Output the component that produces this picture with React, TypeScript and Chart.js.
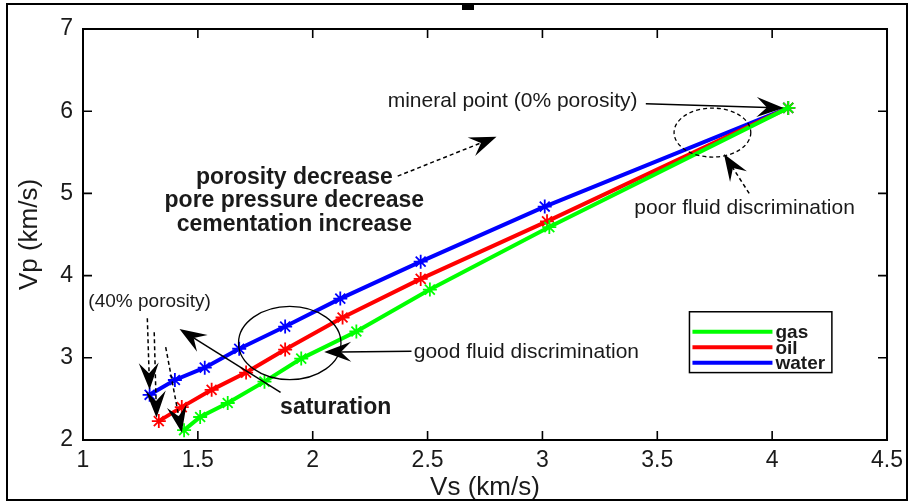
import React, { useEffect, useRef } from "react";
import { Chart, registerables } from "chart.js";

Chart.register(...registerables);

// Vs / Vp trends (km/s) from 40% porosity down to the mineral point, 5% steps
const VS_GAS = [1.44, 1.51, 1.63, 1.79, 1.95, 2.19, 2.51, 3.03, 4.07];
const VP_GAS = [2.12, 2.28, 2.45, 2.71, 2.99, 3.32, 3.83, 4.59, 6.04];
const VS_OIL = [1.33, 1.43, 1.56, 1.71, 1.88, 2.13, 2.47, 3.02, 4.07];
const VP_OIL = [2.23, 2.4, 2.61, 2.82, 3.1, 3.49, 3.96, 4.66, 6.04];
const VS_WATER = [1.29, 1.4, 1.53, 1.68, 1.88, 2.12, 2.47, 3.01, 4.07];
const VP_WATER = [2.55, 2.73, 2.88, 3.11, 3.38, 3.72, 4.17, 4.84, 6.04];

const SERIES_NAMES = ["gas", "oil", "water"];
const SERIES_COLORS = ["#00ff00", "#ff0000", "#0000ff"];

const X_TICKS = [1, 1.5, 2, 2.5, 3, 3.5, 4, 4.5];
const Y_TICKS = [2, 3, 4, 5, 6, 7];
const X_TITLE = "Vs (km/s)";
const Y_TITLE = "Vp (km/s)";

const FONT = '"Liberation Sans", Arial, Helvetica, sans-serif';
const INK = "#1a1a1a";

// Annotation text, placed in (Vs, Vp) data units
const NOTES = [
  { text: "mineral point (0% porosity)", x: 2.87, y: 6.12, size: 21, bold: false },
  { text: "poor fluid discrimination", x: 3.88, y: 4.82, size: 21, bold: false },
  { text: "porosity decrease", x: 1.92, y: 5.19, size: 23, bold: true },
  { text: "pore pressure decrease", x: 1.92, y: 4.91, size: 23, bold: true },
  { text: "cementation increase", x: 1.92, y: 4.62, size: 23, bold: true },
  { text: "(40% porosity)", x: 1.29, y: 3.68, size: 19, bold: false },
  { text: "good fluid discrimination", x: 2.93, y: 3.07, size: 21, bold: false },
  { text: "saturation", x: 2.1, y: 2.39, size: 23, bold: true },
];

// Arrows: [fromVs, fromVp, toVs, toVp, dashed]
const ARROWS: [number, number, number, number, boolean][] = [
  [3.45, 6.09, 4.05, 6.04, false],
  [3.9, 5.0, 3.79, 5.48, true],
  [2.37, 5.21, 2.8, 5.69, true],
  [1.28, 3.48, 1.29, 2.61, true],
  [1.31, 3.31, 1.32, 2.27, true],
  [1.36, 3.13, 1.43, 2.09, true],
  [1.86, 2.58, 1.42, 3.35, false],
  [2.43, 3.08, 2.05, 3.07, false],
];

// Ellipses: [centerVs, centerVp, radiusVs, radiusVp, dashed]
const ELLIPSES: [number, number, number, number, boolean][] = [
  [3.74, 5.74, 0.167, 0.298, true],
  [1.9, 3.18, 0.223, 0.445, false],
];

// Legend box corners in data units
const LEGEND_BOX = { x0: 3.64, x1: 4.26, y0: 3.56, y1: 2.82 };

function toPoints(xs: number[], ys: number[]) {
  return xs.map((x, i) => ({ x, y: ys[i] }));
}

function drawArrow(ctx: CanvasRenderingContext2D, x1: number, y1: number, x2: number, y2: number, dashed: boolean) {
  const len = 27;
  const half = 10;
  const dx = x2 - x1;
  const dy = y2 - y1;
  const d = Math.hypot(dx, dy) || 1;
  const ux = dx / d;
  const uy = dy / d;
  const nx = -uy;
  const ny = ux;
  ctx.save();
  ctx.strokeStyle = "#000";
  ctx.lineWidth = 1.5;
  ctx.setLineDash(dashed ? [4, 3] : []);
  ctx.beginPath();
  ctx.moveTo(x1, y1);
  ctx.lineTo(x2 - ux * len * 0.6, y2 - uy * len * 0.6);
  ctx.stroke();
  ctx.setLineDash([]);
  ctx.fillStyle = "#000";
  ctx.beginPath();
  ctx.moveTo(x2, y2);
  ctx.lineTo(x2 - ux * len + nx * half, y2 - uy * len + ny * half);
  ctx.lineTo(x2 - ux * len * 0.62, y2 - uy * len * 0.62);
  ctx.lineTo(x2 - ux * len - nx * half, y2 - uy * len - ny * half);
  ctx.closePath();
  ctx.fill();
  ctx.restore();
}

const overlayPlugin = {
  id: "figureOverlay",
  afterDatasetsDraw(chart: any) {
    const { ctx, chartArea: a, scales } = chart;
    const xs = scales.x;
    const ys = scales.y;
    const X = (v: number) => xs.getPixelForValue(v);
    const Y = (v: number) => ys.getPixelForValue(v);

    ctx.save();
    // axes box with inward ticks on all four sides
    ctx.strokeStyle = "#000";
    ctx.lineWidth = 2;
    ctx.strokeRect(a.left, a.top, a.right - a.left, a.bottom - a.top);
    ctx.lineWidth = 1.6;
    const tl = 9;
    ctx.beginPath();
    X_TICKS.forEach((v) => {
      const px = X(v);
      ctx.moveTo(px, a.bottom);
      ctx.lineTo(px, a.bottom - tl);
      ctx.moveTo(px, a.top);
      ctx.lineTo(px, a.top + tl);
    });
    Y_TICKS.forEach((v) => {
      const py = Y(v);
      ctx.moveTo(a.left, py);
      ctx.lineTo(a.left + tl, py);
      ctx.moveTo(a.right, py);
      ctx.lineTo(a.right - tl, py);
    });
    ctx.stroke();

    // ellipses
    ELLIPSES.forEach(([cx, cy, rx, ry, dashed]) => {
      ctx.save();
      ctx.strokeStyle = "#000";
      ctx.lineWidth = 1.3;
      ctx.setLineDash(dashed ? [4, 3] : []);
      ctx.beginPath();
      ctx.ellipse(X(cx), Y(cy), Math.abs(X(cx + rx) - X(cx)), Math.abs(Y(cy + ry) - Y(cy)), 0, 0, Math.PI * 2);
      ctx.stroke();
      ctx.restore();
    });

    // arrows
    ARROWS.forEach(([fx, fy, tx, ty, dashed]) => drawArrow(ctx, X(fx), Y(fy), X(tx), Y(ty), dashed));

    // text notes
    ctx.fillStyle = INK;
    ctx.textAlign = "center";
    ctx.textBaseline = "middle";
    NOTES.forEach((n) => {
      ctx.font = `${n.bold ? "bold " : ""}${n.size}px ${FONT}`;
      ctx.fillText(n.text, X(n.x), Y(n.y));
    });

    // legend
    const bx0 = X(LEGEND_BOX.x0);
    const bx1 = X(LEGEND_BOX.x1);
    const by0 = Y(LEGEND_BOX.y0);
    const by1 = Y(LEGEND_BOX.y1);
    ctx.fillStyle = "#fff";
    ctx.fillRect(bx0, by0, bx1 - bx0, by1 - by0);
    ctx.strokeStyle = "#000";
    ctx.lineWidth = 1.5;
    ctx.strokeRect(bx0, by0, bx1 - bx0, by1 - by0);
    chart.data.datasets.forEach((ds: any, i: number) => {
      const ry = by0 + 20 + i * 15.5;
      ctx.strokeStyle = ds.borderColor;
      ctx.lineWidth = 4;
      ctx.beginPath();
      ctx.moveTo(bx0 + 3, ry);
      ctx.lineTo(bx0 + 83, ry);
      ctx.stroke();
      ctx.fillStyle = INK;
      ctx.textAlign = "left";
      ctx.font = `bold 19px ${FONT}`;
      ctx.fillText(ds.label, bx0 + 86, ry + 1);
    });
    ctx.restore();
  },
  afterDraw(chart: any) {
    const { ctx, width, height } = chart;
    ctx.save();
    // figure frame and the clipped title stub above it
    ctx.strokeStyle = "#000";
    ctx.lineWidth = 2;
    ctx.strokeRect(7, 4, width - 10, height - 7);
    ctx.fillStyle = "#000";
    ctx.fillRect(462, 4, 12, 6);
    ctx.restore();
  },
};

export default function App() {
  const canvasRef = useRef<HTMLCanvasElement | null>(null);

  useEffect(() => {
    document.body.style.margin = "0";
    const canvas = canvasRef.current;
    if (!canvas) return;
    const seriesX = [VS_GAS, VS_OIL, VS_WATER];
    const seriesY = [VP_GAS, VP_OIL, VP_WATER];
    const chart = new Chart(canvas, {
      type: "line",
      data: {
        datasets: SERIES_NAMES.map((name, i) => ({
          label: name,
          data: toPoints(seriesX[i], seriesY[i]),
          borderColor: SERIES_COLORS[i],
          backgroundColor: SERIES_COLORS[i],
          borderWidth: 4,
          pointStyle: "star",
          pointRadius: 7,
          pointBorderWidth: 1.8,
          pointBorderColor: SERIES_COLORS[i],
          tension: 0,
          fill: false,
        })),
      },
      options: {
        animation: false,
        responsive: false,
        maintainAspectRatio: false,
        layout: { padding: { top: 29, right: 19, left: 0, bottom: 0 } },
        plugins: { legend: { display: false }, tooltip: { enabled: false } },
        scales: {
          x: {
            type: "linear",
            min: 1,
            max: 4.5,
            afterBuildTicks: (s: any) => {
              s.ticks = X_TICKS.map((v) => ({ value: v }));
            },
            afterFit: (s: any) => {
              s.height = 63;
            },
            grid: { display: false, drawTicks: false },
            border: { display: false },
            ticks: {
              color: INK,
              font: { family: FONT, size: 23 },
              padding: 7,
              maxRotation: 0,
              autoSkip: false,
              callback: (v: any) => String(v),
            },
            title: { display: true, text: X_TITLE, color: INK, font: { family: FONT, size: 26 }, padding: { top: 0, bottom: 0 } },
          },
          y: {
            type: "linear",
            min: 2,
            max: 7,
            afterBuildTicks: (s: any) => {
              s.ticks = Y_TICKS.map((v) => ({ value: v }));
            },
            afterFit: (s: any) => {
              s.width = 83;
            },
            grid: { display: false, drawTicks: false },
            border: { display: false },
            ticks: {
              color: INK,
              font: { family: FONT, size: 23 },
              padding: 10,
              autoSkip: false,
              callback: (v: any) => String(v),
            },
            title: { display: true, text: Y_TITLE, color: INK, font: { family: FONT, size: 26 }, padding: { top: 14, bottom: 0 } },
          },
        },
      },
      plugins: [overlayPlugin],
    });
    return () => chart.destroy();
  }, []);

  return <canvas ref={canvasRef} width={910} height={503} style={{ display: "block" }} />;
}
